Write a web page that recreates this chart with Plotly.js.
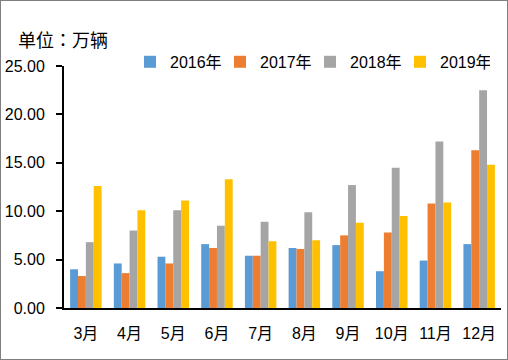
<!DOCTYPE html>
<html><head><meta charset="utf-8">
<script src="https://cdn.plot.ly/plotly-3.0.1.min.js"></script>
<style>
html,body{margin:0;padding:0;background:#fff;}
#chart{width:506px;height:358px;border:1px solid #7f7f7f;}
</style></head>
<body><div id="chart"></div>
<script>
const months = ['3月','4月','5月','6月','7月','8月','9月','10月','11月','12月'];
const seriesNames = ['2016年','2017年','2018年','2019年'];
const v2016 = [4.0, 4.6, 5.3, 6.6, 5.4, 6.2, 6.5, 3.8, 4.9, 6.6];
const v2017 = [3.3, 3.6, 4.6, 6.2, 5.4, 6.1, 7.5, 7.8, 10.8, 16.3];
const v2018 = [6.8, 8.0, 10.1, 8.5, 8.9, 9.9, 12.7, 14.5, 17.2, 22.5];
const v2019 = [12.6, 10.1, 11.1, 13.3, 6.9, 7.0, 8.8, 9.5, 10.9, 14.8];
const colors = ['#5b9bd5','#ed7d31','#a5a5a5','#ffc000'];
const allVals = [v2016, v2017, v2018, v2019];
const font = "Liberation Sans, 'Noto Sans CJK SC', sans-serif";
const cjk = "'Noto Sans CJK TC', sans-serif";
const traces = allVals.map((vals, i) => ({
  type: 'bar', x: months, y: vals, name: seriesNames[i],
  marker: {color: colors[i]}, hoverinfo: 'none'
}));
const layout = {
  width: 506, height: 358,
  margin: {l: 63, r: 6, t: 65, b: 51},
  paper_bgcolor: '#fff', plot_bgcolor: '#fff',
  barmode: 'group', bargap: 0.28, bargroupgap: 0,
  font: {family: font, size: 16, color: '#000'},
  showlegend: true,
  legend: {orientation: 'h', x: 0.151, xanchor: 'left', y: 1.017, yanchor: 'middle',
           entrywidth: 45, entrywidthmode: 'pixels',
           font: {family: font, size: 16, color: '#000'}, itemwidth: 30, bgcolor: 'rgba(0,0,0,0)'},
  xaxis: {showline: true, linecolor: '#000', linewidth: 2, ticks: 'outside', ticklen: 10,
          tickcolor: 'rgba(0,0,0,0)', showgrid: false,
          tickfont: {family: font, size: 16, color: '#000'}, fixedrange: true},
  yaxis: {range: [0, 25], dtick: 5, tickformat: '.2f', showline: true, linecolor: '#000', linewidth: 2,
          ticks: 'outside', ticklen: 6, tickwidth: 2, tickcolor: '#000', ticklabelstandoff: 8,
          showgrid: false, zeroline: false,
          tickfont: {family: font, size: 16, color: '#000'}, fixedrange: true},
  annotations: [{text: '单位：万辆', xref: 'paper', yref: 'paper',
                 x: -0.11, xanchor: 'left', y: 1.11, yanchor: 'middle', showarrow: false,
                 font: {family: cjk, size: 18, color: '#000'}}]
};
Plotly.newPlot('chart', traces, layout, {displayModeBar: false, staticPlot: true});
</script></body></html>
